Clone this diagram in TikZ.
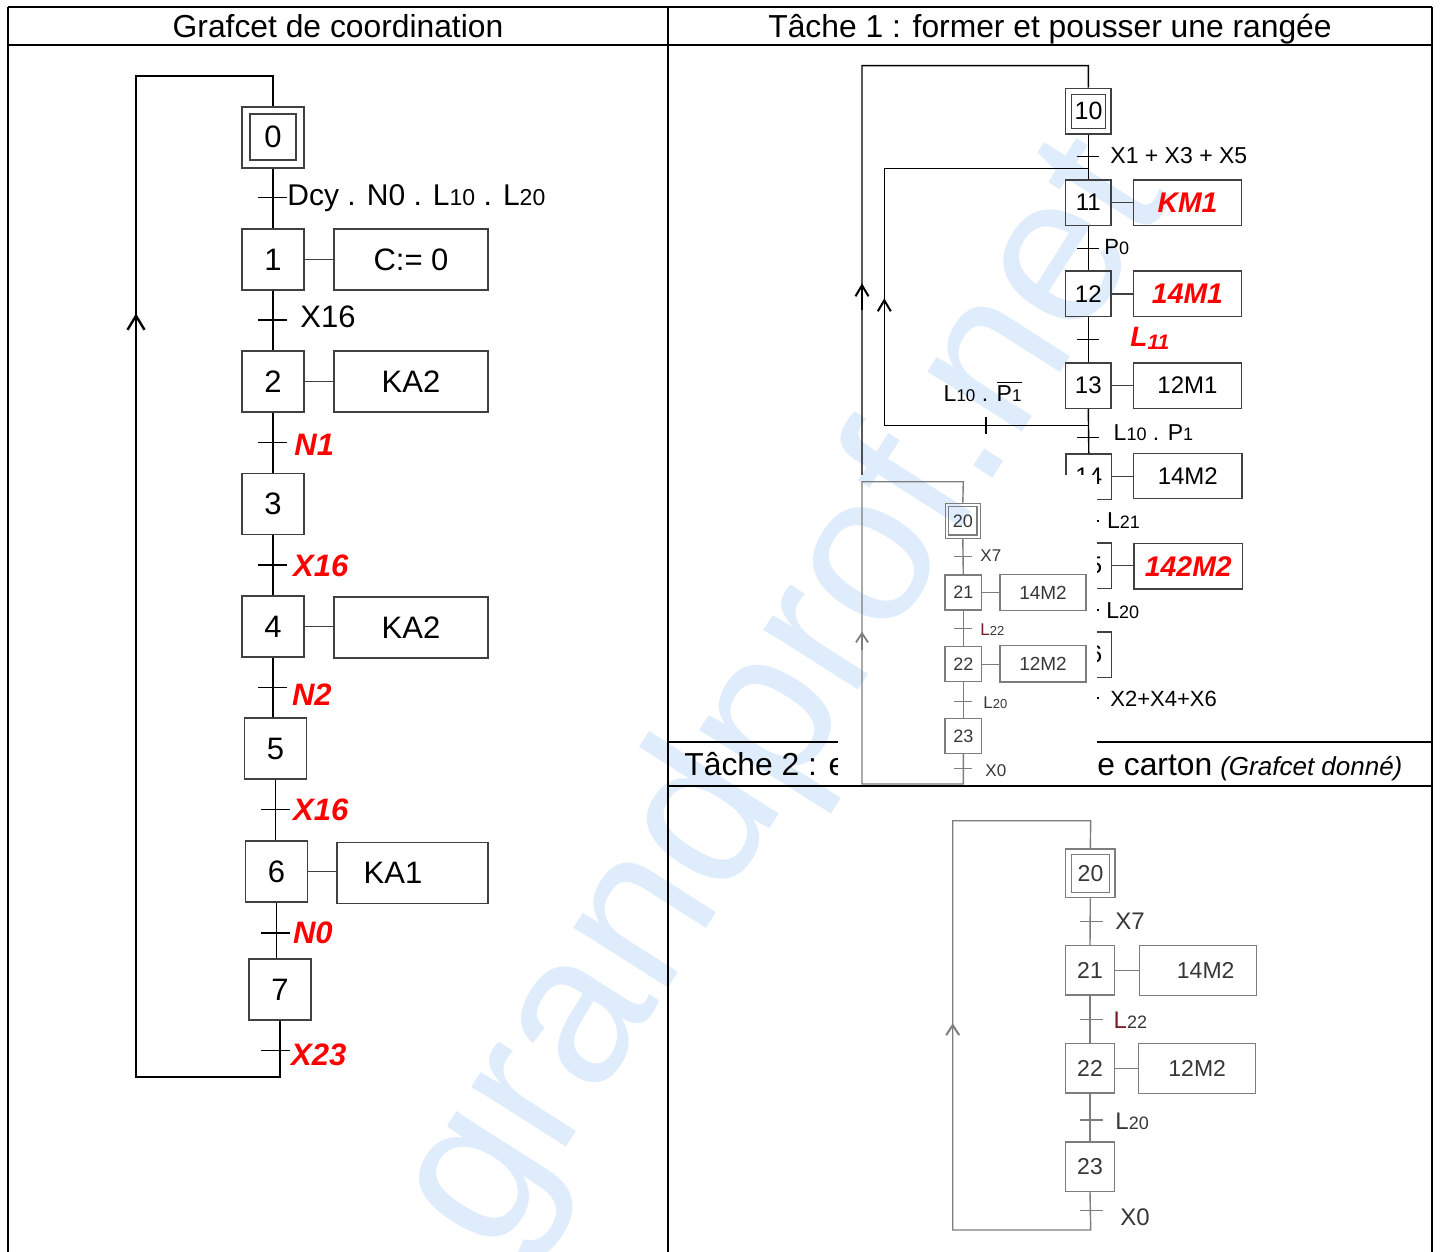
\documentclass[tikz,border=0pt]{standalone}
\usepackage{fontspec}
\setmainfont{Liberation Sans}
\usetikzlibrary{arrows.meta}
\newcommand\fsz[1]{\fontsize{#1}{#1}\selectfont}
\definecolor{wmblue}{RGB}{222,236,252}
\definecolor{gline}{RGB}{125,125,125}
\definecolor{gtext}{RGB}{55,55,55}
\definecolor{darkl}{RGB}{120,30,40}
\pgfdeclarelayer{back}
\pgfdeclarelayer{cover}
\pgfsetlayers{back,cover,main}
\newcommand\wmtext{grandprof.net}
\begin{document}
\begin{tikzpicture}[x=0.5pt,y=-0.5pt,
  tbl/.style={line width=1.3pt, black},
  ln/.style={line width=0.7pt, black},
  stepbox/.style={draw=black!75, line width=0.7pt, inner sep=0pt, minimum width=31pt, minimum height=30.5pt, font=\fsz{15.5}},
  actbox/.style={stepbox, minimum width=77pt},
  tk/.style={line width=0.6pt, black},
  lbl/.style={inner sep=0pt, anchor=base west, font=\fsz{15.5}},
  rlbl/.style={lbl, text=red, font=\fsz{15.5}\bfseries\itshape},
  hdr/.style={inner sep=0pt, anchor=base, font=\fsz{15.9}},
  wmark/.style={text=wmblue, rotate=57.5, inner sep=0pt, font=\fsz{106}},
  upA/.style={ln, -{Straight Barb[length=7pt,width=8.5pt,line width=1.2pt]}},
  % task 1
  tstep/.style={draw=black!75, line width=0.7pt, inner sep=0pt, minimum width=22.7pt, minimum height=22.7pt, font=\fsz{12}},
  tact/.style={tstep, minimum width=54.2pt, font=\fsz{12}},
  tred/.style={tact, text=red, font=\fsz{14.2}\bfseries\itshape},
  tlbl/.style={inner sep=0pt, anchor=base west, font=\fsz{11.5}},
  upB/.style={ln, -{Straight Barb[length=5.5pt,width=6.5pt,line width=1pt]}},
  % overlay grafcet
  ostep/.style={draw=gline, line width=0.7pt, inner sep=0pt, minimum width=18.3pt, minimum height=17.5pt, text=gtext, font=\fsz{9}},
  oact/.style={ostep, minimum width=43pt, minimum height=18.2pt, font=\fsz{9.5}},
  oln/.style={line width=0.7pt, gline},
  olbl/.style={inner sep=0pt, anchor=base west, text=gtext, font=\fsz{8.5}},
  upC/.style={oln, -{Straight Barb[length=4.5pt,width=6pt,line width=0.9pt]}},
  % bottom grafcet
  bstep/.style={draw=gline, line width=0.7pt, inner sep=0pt, minimum width=24.3pt, minimum height=24.7pt, text=gtext, font=\fsz{11.5}},
  bact/.style={bstep, minimum width=58.5pt, minimum height=25pt, font=\fsz{11.5}},
  blbl/.style={inner sep=0pt, anchor=base west, text=gtext, font=\fsz{12}},
  upD/.style={oln, -{Straight Barb[length=5pt,width=6.5pt,line width=1pt]}},
]
\useasboundingbox (0,0) rectangle (1440,1252);

%================ BACK LAYER: background, watermark, task 1 grafcet ================
\begin{pgfonlayer}{back}
\fill[white] (0,0) rectangle (1440,1252);
\node[wmark] (wmk) at (788,698) {\wmtext};
\draw[tbl] (668,742) -- (1432,742);
\node[hdr, anchor=base west] (h3a) at (684,775) {Tâche 2 : e};
\node[hdr, anchor=base west] (h3b) at (1097,775) {e carton\hspace{4pt}{\fsz{13}\itshape (Grafcet donné)}};

\node[tstep, minimum width=22.7pt, minimum height=22.8pt] (s10) at (1088.3,111.2) {};
\node[tstep, minimum width=16.8pt, minimum height=17pt, font=\fsz{12.5}] (s10i) at (1088.5,111.3) {10};
\node[tstep] (s11) at (1088.3,202.7) {11};
\node[tred] (a11) at (1187.5,202.7) {KM1};
\node[tstep] (s12) at (1088.3,293.8) {12};
\node[tred] (a12) at (1187.5,293.8) {14M1};
\node[tstep] (s13) at (1088.3,385.5) {13};
\node[tact] (a13) at (1187.5,385.5) {12M1};
\node[tstep] (s14) at (1088.8,476.7) {14};
\node[tact] (a14) at (1187.8,476) {14M2};
\node[tstep] (s15) at (1088.8,565.5) {15};
\node[tred] (a15) at (1188.3,566.2) {142M2};
\node[tstep] (s16) at (1088.8,654.5) {16};

\foreach \s in {11,12,13,14,15} \draw[ln, black!75] (s\s.east) -- (s\s.east -| a\s.west);
\draw[ln] (s10.south) -- (s11.north);
\draw[ln] (s11.south) -- (s12.north);
\draw[ln] (s12.south) -- (s13.north);
\draw[ln] (s13.south) -- (s14.north);
\draw[ln] (s14.south) -- (s15.north);
\draw[ln] (s15.south) -- (s16.north);
\coordinate (lb1) at (1088.3,725);
\coordinate (lb2) at (862,725);
\coordinate (lt2) at (862,65.7);
\coordinate (lt1) at (1088.3,65.7);
\draw[ln] (s16.south) -- (lb1) -- (lb2) -- (lt2) -- (lt1) -- (s10.north);
\coordinate (ib1) at (1088.3,425.7);
\coordinate (ib2) at (884.3,425.7);
\coordinate (it2) at (884.3,168.3);
\coordinate (it1) at (1088.3,168.3);
\draw[ln] (ib1) -- (ib2) -- (it2) -- (it1);
\coordinate (tb) at (986,425.7);
\draw[tk] ([yshift=4.2pt]tb) -- ([yshift=-4pt]tb);
\coordinate (arB1) at (862,310); \coordinate (arB2) at (862,283.3);
\draw[upB] (arB1) -- (arB2);
\coordinate (arC1) at (884.3,325); \coordinate (arC2) at (884.3,298.3);
\draw[upB] (arC1) -- (arC2);

\foreach \n/\y in {a/156.7,b/248.3,c/339.3,d/437.7,e/521,f/610,g/698}{
  \coordinate (tt\n) at (1088,\y);
  \draw[tk] ([xshift=-5.65pt]tt\n) -- ([xshift=5.65pt]tt\n);
}
\node[tlbl] (ta) at (1110,163.3) {X1 + X3 + X5};
\node[tlbl, font=\fsz{11}] (tbl1) at (1104,254.3) {P{\fsz{9}0}};
\node[tlbl, text=red, font=\fsz{14}\bfseries\itshape] (tc) at (1130,346.7) {L\raisebox{-1.6pt}{\fsz{10.5}11}};
\node[tlbl] (td) at (1113.3,440) {L{\fsz{9}10} . P{\fsz{9}1}};
\node[tlbl, font=\fsz{11.5}] (tdb) at (943.3,401) {L{\fsz{8.5}10} . $\overline{\mbox{P{\fsz{8.5}1}}}$};
\node[tlbl] (te) at (1106.7,528) {L{\fsz{9}21}};
\node[tlbl] (tf) at (1106,618) {L{\fsz{9}20}};
\node[tlbl, font=\fsz{11}] (tg) at (1110,706.7) {X2+X4+X6};
\end{pgfonlayer}

%================ COVER (pasted picture) ================
\begin{pgfonlayer}{cover}
\fill[white] (838,475) rectangle (1097,786);
\begin{scope}
\clip (838,475) rectangle (1097,786);
\node[wmark] (wmk2) at (788,698) {\wmtext};
\end{scope}
\end{pgfonlayer}

%================ TABLE ================
\draw[tbl] (8,7) -- (1432,7);
\draw[tbl] (8,7) -- (8,1252);
\draw[tbl] (668,7) -- (668,1252);
\draw[tbl] (1432,7) -- (1432,1252);
\draw[tbl] (8,45) -- (1432,45);
\draw[tbl] (668,786) -- (1432,786);
\node[hdr] (h1) at (338,37.5) {Grafcet de coordination};
\node[hdr] (h2) at (1050,37.5) {Tâche 1 : former et pousser une rangée};

%================ LEFT GRAFCET ================
\node[stepbox, minimum width=31pt, minimum height=30.5pt] (s0) at (273,137.5) {};
\node[stepbox, minimum width=23pt, minimum height=23pt] (s0i) at (273,137) {0};
\node[stepbox] (s1) at (273,259.5) {1};
\node[actbox] (a1) at (411,259.5) {C:= 0};
\node[stepbox] (s2) at (273,381.5) {2};
\node[actbox] (a2) at (411,381.5) {KA2};
\node[stepbox] (s3) at (273,504) {3};
\node[stepbox] (s4) at (273,626.5) {4};
\node[actbox] (a4) at (411,627.5) {KA2};
\node[stepbox] (s5) at (275.5,748.5) {5};
\node[stepbox] (s6) at (276.5,871.5) {6};
\node[actbox, minimum width=75.5pt] (a6) at (412.5,873) {};
\node[inner sep=0pt, font=\fsz{15.5}] (a6t) at (393,873) {KA1};
\node[stepbox] (s7) at (280,989.5) {7};

\foreach \s in {1,2,4,6} \draw[ln, black!75] (s\s.east) -- (s\s.east -| a\s.west);
\draw[ln] (s0.south) -- (s1.north);
\draw[ln] (s1.south) -- (s2.north);
\draw[ln] (s2.south) -- (s3.north);
\draw[ln] (s3.south) -- (s4.north);
\draw[ln] (s4.south) -- (s4.south |- s5.north);
\draw[ln] (s5.south) -- (s5.south |- s6.north);
\draw[ln] (s6.south) -- (s6.south |- s7.north);
\coordinate (L0top) at (273,76);
\coordinate (Lc1) at (136,76);
\coordinate (Lc2) at (136,1077);
\coordinate (L0bot) at (280,1077);
\draw[ln] (s7.south) -- (L0bot) -- (Lc2) -- (Lc1) -- (L0top) -- (s0.north);
\coordinate (arA1) at (136,345); \coordinate (arA2) at (136,313.5);
\draw[upA] (arA1) -- (arA2);

\foreach \n/\x/\y in {0/273/197.7,1/273/320,2/273/442.7,3/273/565,4/273/687.3,5/275.5/809.7,6/276/933,7/276/1050.3}{
  \coordinate (t\n) at (\x,\y);
  \draw[tk] ([xshift=-7.5pt]t\n) -- ([xshift=7pt]t\n);
}
\node[lbl, font=\fsz{15}] (l0) at (287,205.7) {Dcy . N0 . L{\fsz{11.5}10} . L{\fsz{11.5}20}};
\node[lbl] (l1) at (300,327.7) {X16};
\node[rlbl] (l2) at (294,455) {N1};
\node[rlbl] (l3) at (292.7,576.7) {X16};
\node[rlbl] (l4) at (291.7,705.7) {N2};
\node[rlbl] (l5) at (292.7,820.7) {X16};
\node[rlbl] (l6) at (292.7,943.3) {N0};
\node[rlbl] (l7) at (290.7,1065) {X23};

%================ OVERLAY GRAFCET (pasted) ================
\node[ostep, minimum width=17.5pt, minimum height=17.5pt] (o20) at (962.8,520.8) {};
\node[ostep, minimum width=14.2pt, minimum height=14.2pt] (o20i) at (962.8,520.8) {20};
\node[ostep] (o21) at (963.3,592.5) {21};
\node[oact] (oa21) at (1043,592.5) {14M2};
\node[ostep] (o22) at (963.3,664.2) {22};
\node[oact] (oa22) at (1043,663.8) {12M2};
\node[ostep] (o23) at (963.3,735.8) {23};
\foreach \s in {21,22} \draw[oln] (o\s.east) -- (o\s.east -| oa\s.west);
\draw[oln] (o20.south) -- (o21.north);
\draw[oln] (o21.south) -- (o22.north);
\draw[oln] (o22.south) -- (o23.north);
\coordinate (ob1) at (963.3,784);
\coordinate (ob2) at (862,784);
\coordinate (ot2) at (862,481.7);
\coordinate (ot1) at (963.3,481.7);
\draw[oln] (o23.south) -- (ob1) -- (ob2) -- (ot2) -- (ot1) -- (o20.north);
\coordinate (arE1) at (862,650); \coordinate (arE2) at (862,631.7);
\draw[upC] (arE1) -- (arE2);
\foreach \n/\y in {a/556.7,b/628.3,c/701.7,d/768.3}{
  \coordinate (ot\n) at (963.3,\y);
  \draw[oln] ([xshift=-4.5pt]ot\n) -- ([xshift=4.5pt]ot\n);
}
\node[olbl] (ola) at (980,561) {X7};
\node[olbl] (olb) at (980,635) {\textcolor{darkl}{L}{\fsz{6.5}22}};
\node[olbl] (olc) at (983,708.5) {L{\fsz{6.5}20}};
\node[olbl] (old) at (985,776) {X0};

%================ BOTTOM GRAFCET (task 2) ================
\node[bstep, minimum width=24.7pt, minimum height=24.3pt] (b20) at (1090.3,873.3) {};
\node[bstep, minimum width=18.8pt, minimum height=19.2pt] (b20i) at (1090.5,873.5) {20};
\node[bstep] (b21) at (1090,970.3) {21};
\node[bact] (ba21) at (1197.7,970.7) {\hspace{8pt}14M2};
\node[bstep] (b22) at (1090,1068.3) {22};
\node[bact] (ba22) at (1197.2,1068.3) {12M2};
\node[bstep] (b23) at (1090,1166.5) {23};
\foreach \s in {21,22} \draw[oln] (b\s.east) -- (b\s.east -| ba\s.west);
\draw[oln] (b20.south) -- (b21.north);
\draw[oln] (b21.south) -- (b22.north);
\draw[oln] (b22.south) -- (b23.north);
\coordinate (bb1) at (1090.7,1230);
\coordinate (bb2) at (952.7,1230);
\coordinate (bt2) at (952.7,820.7);
\coordinate (bt1) at (1090.7,820.7);
\draw[oln] (b23.south) -- (bb1) -- (bb2) -- (bt2) -- (bt1) -- (b20.north);
\coordinate (arF1) at (952.7,1045); \coordinate (arF2) at (952.7,1023.3);
\draw[upD] (arF1) -- (arF2);
\foreach \n/\y in {a/921.7,b/1019.3,c/1120,d/1210.7}{
  \coordinate (bt\n) at (1091.3,\y);
  \draw[oln] ([xshift=-5.7pt]bt\n) -- ([xshift=5.7pt]bt\n);
}
\node[blbl] (bla) at (1115,929) {X7};
\node[blbl] (blb) at (1113.3,1028) {\textcolor{darkl}{L}{\fsz{9}22}};
\node[blbl] (blc) at (1115,1129) {L{\fsz{9}20}};
\node[blbl] (bld) at (1120,1225) {X0};
\end{tikzpicture}
\end{document}
